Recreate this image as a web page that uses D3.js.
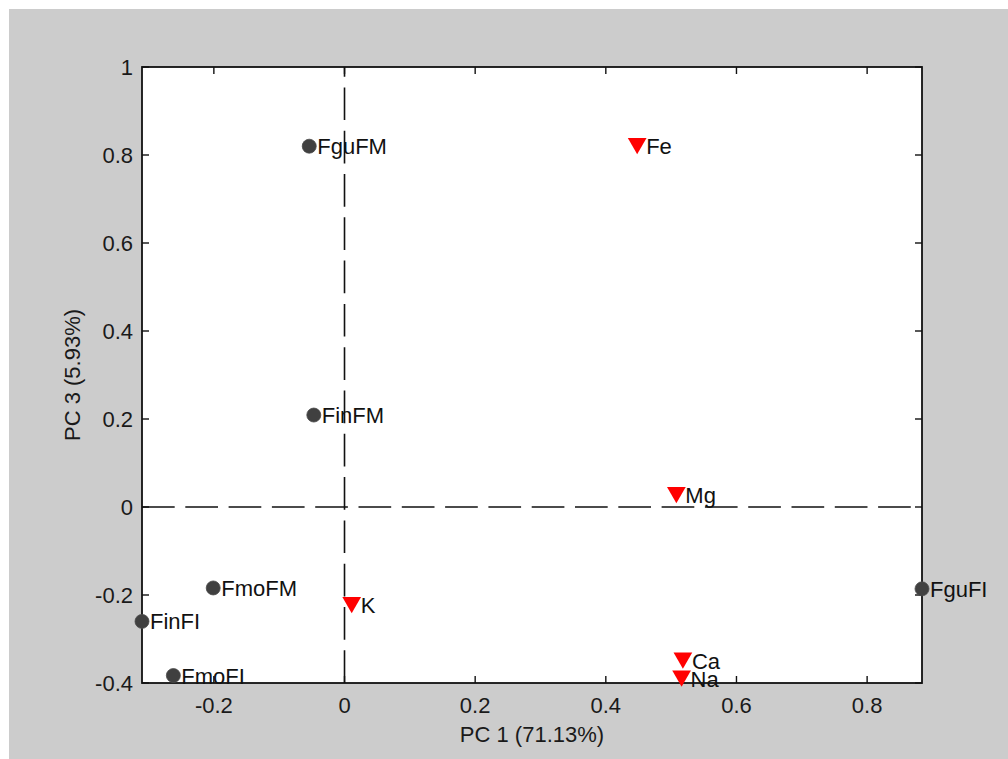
<!DOCTYPE html>
<html>
<head>
<meta charset="utf-8">
<script src="https://cdn.jsdelivr.net/npm/d3@7"></script>
<style>
  html, body { margin: 0; padding: 0; background: #ffffff; }
  svg { display: block; }
  text { font-family: "Liberation Sans", Arial, sans-serif; }
</style>
</head>
<body>
<svg id="chart" width="1008" height="759"></svg>
<script>
// PCA biplot: samples (scores) and elements (loadings), PC 1 vs PC 3
const sampleNames = ["FguFM", "FinFM", "FmoFM", "FinFI", "FmoFI", "FguFI"];
const samplePC1   = [-0.054, -0.047, -0.201, -0.310, -0.262, 0.884];
const samplePC3   = [ 0.820,  0.209, -0.184, -0.260, -0.383, -0.186];

const elementNames = ["Fe", "Mg", "K", "Ca", "Na"];
const elementPC1   = [0.448, 0.508, 0.011, 0.518, 0.516];
const elementPC3   = [0.820, 0.027, -0.223, -0.349, -0.390];

const xTicks = [-0.2, 0, 0.2, 0.4, 0.6, 0.8];
const xTickLabels = ["-0.2", "0", "0.2", "0.4", "0.6", "0.8"];
const yTicks = [-0.4, -0.2, 0, 0.2, 0.4, 0.6, 0.8, 1];
const yTickLabels = ["-0.4", "-0.2", "0", "0.2", "0.4", "0.6", "0.8", "1"];

const xLabel = "PC 1 (71.13%)";
const yLabel = "PC 3 (5.93%)";

const svg = d3.select("#chart");
const W = 1008, H = 759;
const plot = { left: 142, top: 67, right: 922, bottom: 683 };

// figure background
svg.append("rect").attr("x", 9).attr("y", 9).attr("width", W - 9).attr("height", H - 9)
  .attr("fill", "#cccccc");

const x = d3.scaleLinear().domain([d3.min(samplePC1), d3.max(samplePC1)]).range([plot.left, plot.right]);
const y = d3.scaleLinear().domain([-0.4, 1]).range([plot.bottom, plot.top]);

// axes area
svg.append("rect")
  .attr("x", plot.left).attr("y", plot.top)
  .attr("width", plot.right - plot.left).attr("height", plot.bottom - plot.top)
  .attr("fill", "#ffffff");

// reference lines through the origin
const dash = "32.7 10.6";
svg.append("line")
  .attr("x1", x(x.domain()[0])).attr("x2", x(x.domain()[1]))
  .attr("y1", y(0)).attr("y2", y(0))
  .attr("stroke", "#111").attr("stroke-width", 1.6).attr("stroke-dasharray", dash);
svg.append("line")
  .attr("x1", x(0)).attr("x2", x(0))
  .attr("y1", y(-0.4)).attr("y2", y(1))
  .attr("stroke", "#111").attr("stroke-width", 1.6).attr("stroke-dasharray", dash);

// ticks (inward, on all four sides)
const tickLen = 7;
const ax = svg.append("g").attr("stroke", "#111").attr("stroke-width", 1.4);
xTicks.forEach(t => {
  ax.append("line").attr("x1", x(t)).attr("x2", x(t)).attr("y1", plot.bottom).attr("y2", plot.bottom - tickLen);
  ax.append("line").attr("x1", x(t)).attr("x2", x(t)).attr("y1", plot.top).attr("y2", plot.top + tickLen);
});
yTicks.forEach(t => {
  ax.append("line").attr("x1", plot.left).attr("x2", plot.left + tickLen).attr("y1", y(t)).attr("y2", y(t));
  ax.append("line").attr("x1", plot.right).attr("x2", plot.right - tickLen).attr("y1", y(t)).attr("y2", y(t));
});

// axes box
svg.append("rect")
  .attr("x", plot.left).attr("y", plot.top)
  .attr("width", plot.right - plot.left).attr("height", plot.bottom - plot.top)
  .attr("fill", "none").attr("stroke", "#111").attr("stroke-width", 1.8);

// tick labels
const fs = 22;
svg.append("g").selectAll("text").data(xTicks).join("text")
  .attr("x", d => x(d)).attr("y", plot.bottom + 30)
  .attr("text-anchor", "middle").attr("font-size", fs).attr("fill", "#1a1a1a")
  .text((d, i) => xTickLabels[i]);
svg.append("g").selectAll("text").data(yTicks).join("text")
  .attr("x", plot.left - 9).attr("y", d => y(d) + 8)
  .attr("text-anchor", "end").attr("font-size", fs).attr("fill", "#1a1a1a")
  .text((d, i) => yTickLabels[i]);

// axis titles
svg.append("text")
  .attr("x", (plot.left + plot.right) / 2).attr("y", 742)
  .attr("text-anchor", "middle").attr("font-size", fs).attr("fill", "#1a1a1a")
  .text(xLabel);
svg.append("text")
  .attr("transform", `translate(80,${(plot.top + plot.bottom) / 2}) rotate(-90)`)
  .attr("text-anchor", "middle").attr("font-size", fs).attr("fill", "#1a1a1a")
  .text(yLabel);

// downward triangle symbol, centred on its bounding box
const triangleDown = {
  draw(ctx, size) {
    const w = Math.sqrt(size) * 1.1, h = Math.sqrt(size) * 0.95;
    ctx.moveTo(-w / 2, -h / 2);
    ctx.lineTo(w / 2, -h / 2);
    ctx.lineTo(0, h / 2);
    ctx.closePath();
  }
};

const samples = sampleNames.map((n, i) => ({ name: n, px: samplePC1[i], py: samplePC3[i] }));
const elements = elementNames.map((n, i) => ({ name: n, px: elementPC1[i], py: elementPC3[i] }));

// sample scores
svg.append("g").selectAll("circle").data(samples).join("circle")
  .attr("cx", d => x(d.px)).attr("cy", d => y(d.py)).attr("r", 7)
  .attr("fill", "#404040").attr("stroke", "#4a4a4a").attr("stroke-width", 0.8);

// element loadings
svg.append("g").selectAll("path").data(elements).join("path")
  .attr("transform", d => `translate(${x(d.px)},${y(d.py)})`)
  .attr("d", d3.symbol().type(triangleDown).size(290))
  .attr("fill", "#ff0000");

// labels
const labels = svg.append("g").attr("font-size", fs).attr("fill", "#111");
labels.selectAll("text.s").data(samples).join("text").attr("class", "s")
  .attr("x", d => x(d.px) + 8).attr("y", d => y(d.py) + 8)
  .text(d => d.name);
labels.selectAll("text.e").data(elements).join("text").attr("class", "e")
  .attr("x", d => x(d.px) + 9).attr("y", d => y(d.py) + 8)
  .text(d => d.name);
</script>
</body>
</html>
